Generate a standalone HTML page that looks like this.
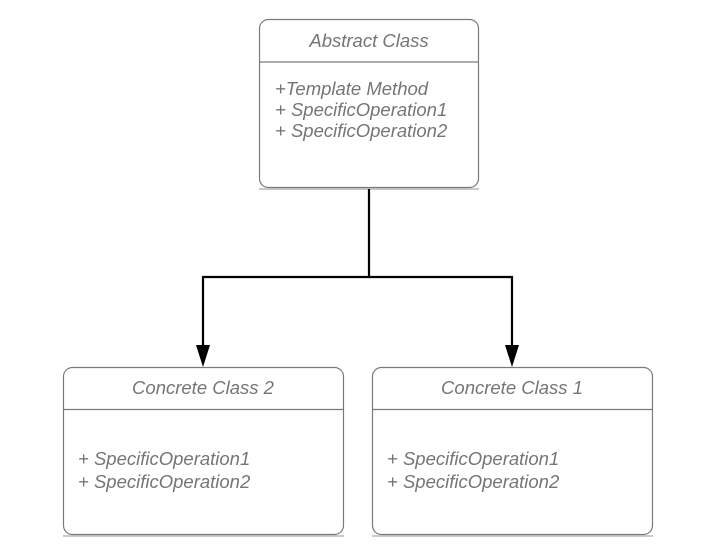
<!DOCTYPE html>
<html><head><meta charset="utf-8"><style>
html,body{margin:0;padding:0;background:#fff;width:726px;height:560px;overflow:hidden}
text{font-family:"Liberation Sans",sans-serif;font-style:italic;font-size:18.5px;fill:#757575}
</style></head><body>
<svg width="726" height="560" viewBox="0 0 726 560" xmlns="http://www.w3.org/2000/svg">
<g fill="#fff" stroke="#7a7a7a" stroke-width="1.2">
<rect x="259.5" y="19.5" width="219" height="168" rx="9"/>
<line x1="259.5" y1="62" x2="478.5" y2="62"/>
<line x1="259" y1="189" x2="479" y2="189" stroke="#aaa"/>
<rect x="63.5" y="367.5" width="280" height="167" rx="9"/>
<line x1="63.5" y1="409.5" x2="343.5" y2="409.5"/>
<line x1="63" y1="536" x2="344" y2="536" stroke="#aaa"/>
<rect x="372.5" y="367.5" width="280" height="167" rx="9"/>
<line x1="372.5" y1="409.5" x2="652.5" y2="409.5"/>
<line x1="372" y1="536" x2="653" y2="536" stroke="#aaa"/>
</g>
<g stroke="#000" stroke-width="2.2" fill="none">
<polyline points="369,189 369,277 203,277 203,346"/>
<polyline points="369,277 512,277 512,346"/>
</g>
<polygon points="196,345 210,345 203,367" fill="#000"/>
<polygon points="505,345 519,345 512,367" fill="#000"/>
<text x="369" y="47" text-anchor="middle">Abstract Class</text>
<text x="275" y="95">+Template Method</text>
<text x="275" y="116">+ SpecificOperation1</text>
<text x="275" y="137">+ SpecificOperation2</text>
<text x="203" y="394" text-anchor="middle">Concrete Class 2</text>
<text x="78" y="465">+ SpecificOperation1</text>
<text x="78" y="488">+ SpecificOperation2</text>
<text x="512" y="394" text-anchor="middle">Concrete Class 1</text>
<text x="387" y="465">+ SpecificOperation1</text>
<text x="387" y="488">+ SpecificOperation2</text>
</svg>
</body></html>
